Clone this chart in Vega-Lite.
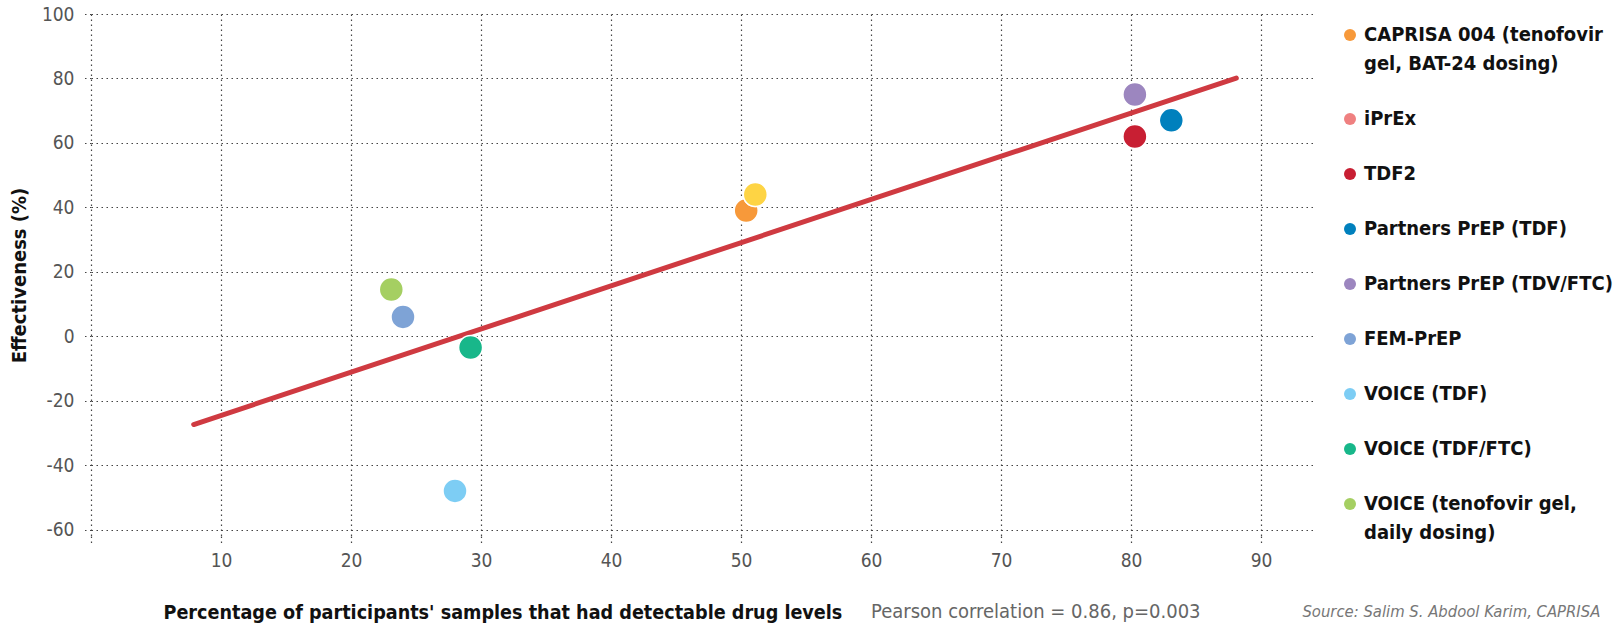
{
  "$schema": "https://vega.github.io/schema/vega-lite/v6.json",
  "width": 1222,
  "height": 522,
  "autosize": {"type": "none"},
  "padding": {"left": 91, "top": 14, "right": 308, "bottom": 92},
  "background": "white",
  "config": {
    "view": {"stroke": null},
    "font": "Liberation Sans Narrow, DejaVu Sans Condensed, Arial Narrow, Liberation Sans, sans-serif",
    "style": {"guide-label": {"lineHeight": 29}},
    "axis": {
      "domain": false,
      "grid": true,
      "gridColor": "#444",
      "gridDash": [1.5, 3.5],
      "gridWidth": 1.2,
      "tickColor": "#444",
      "tickDash": [1.5, 3.5],
      "tickWidth": 1.2,
      "tickSize": 9,
      "labelFont": "Liberation Sans Narrow, DejaVu Sans Condensed, Arial Narrow, Liberation Sans, sans-serif",
      "labelFontSize": 19,
      "labelColor": "#555",
      "titleFont": "Liberation Sans Narrow, DejaVu Sans Condensed, Arial Narrow, Liberation Sans, sans-serif",
      "titleFontWeight": "bold",
      "titleColor": "#111",
      "titleFontSize": 20
    },
    "legend": {
      "labelFont": "Liberation Sans Narrow, DejaVu Sans Condensed, Arial Narrow, Liberation Sans, sans-serif",
      "labelFontWeight": "bold",
      "labelFontSize": 20,
      "labelColor": "#111",
      "labelLimit": 400,
      "symbolType": "circle",
      "symbolSize": 144,
      "symbolStrokeWidth": 0,
      "symbolOpacity": 1,
      "rowPadding": 35,
      "padding": 0
    }
  },
  "datasets": {
    "studies": [
      {"study": "CAPRISA 004 (tenofovir gel, BAT-24 dosing)", "detect": 50.4, "eff": 39},
      {"study": "iPrEx", "detect": 51.1, "eff": 44},
      {"study": "TDF2", "detect": 80.3, "eff": 62},
      {"study": "Partners PrEP (TDF)", "detect": 83.1, "eff": 67},
      {"study": "Partners PrEP (TDV/FTC)", "detect": 80.3, "eff": 75},
      {"study": "FEM-PrEP", "detect": 24.0, "eff": 6},
      {"study": "VOICE (TDF)", "detect": 28.0, "eff": -48},
      {"study": "VOICE (TDF/FTC)", "detect": 29.2, "eff": -3.5},
      {"study": "VOICE (tenofovir gel, daily dosing)", "detect": 23.1, "eff": 14.5}
    ],
    "fit": [
      {"detect": 7.9, "eff": -27.4},
      {"detect": 88.1, "eff": 80.1}
    ],
    "notes": [
      {"text": "Pearson correlation = 0.86, p=0.003", "kind": "stat", "detect": 60.0, "eff": -85.6},
      {"text": "Source: Salim S. Abdool Karim, CAPRISA", "kind": "source", "detect": 116.1, "eff": -85.6}
    ]
  },
  "layer": [
    {
      "data": {"name": "fit"},
      "mark": {"type": "line", "color": "#cf3a41", "strokeWidth": 5, "strokeCap": "round"},
      "encoding": {
        "x": {
          "field": "detect", "type": "quantitative",
          "scale": {"domain": [0, 94], "nice": false, "zero": false},
          "axis": {
            "values": [0, 10, 20, 30, 40, 50, 60, 70, 80, 90],
            "labelExpr": "datum.value == 0 ? '' : datum.label",
            "labelPadding": 6,
            "title": "Percentage of participants' samples that had detectable drug levels",
            "titleFontSize": 19.6,
            "titleAnchor": "start",
            "titleAlign": "left",
            "titleX": 72,
            "titleY": 76,
            "titleBaseline": "middle"
          }
        },
        "y": {
          "field": "eff", "type": "quantitative",
          "scale": {"domain": [-62, 100], "nice": false, "zero": false},
          "axis": {
            "values": [-60, -40, -20, 0, 20, 40, 60, 80, 100],
            "labelExpr": "'' + datum.value",
            "labelPadding": 8,
            "title": "Effectiveness (%)",
            "titlePadding": 12
          }
        }
      }
    },
    {
      "data": {"name": "studies"},
      "mark": {"type": "circle", "size": 576, "opacity": 1, "stroke": "white", "strokeWidth": 1.5},
      "encoding": {
        "x": {"field": "detect", "type": "quantitative"},
        "y": {"field": "eff", "type": "quantitative"},
        "color": {
          "field": "study", "type": "nominal",
          "scale": {
            "domain": ["CAPRISA 004 (tenofovir gel, BAT-24 dosing)", "iPrEx", "TDF2", "Partners PrEP (TDF)", "Partners PrEP (TDV/FTC)", "FEM-PrEP", "VOICE (TDF)", "VOICE (TDF/FTC)", "VOICE (tenofovir gel, daily dosing)"],
            "range": ["#f7993a", "#ef8080", "#c81f33", "#0080bd", "#9c86bf", "#7ea3d6", "#7dcdf4", "#18b78a", "#a5cf62"]
          },
          "legend": {
            "title": null,
            "orient": "none",
            "legendX": 1249,
            "legendY": 11,
            "labelExpr": "datum.label == 'CAPRISA 004 (tenofovir gel, BAT-24 dosing)' ? ['CAPRISA 004 (tenofovir', 'gel, BAT-24 dosing)'] : datum.label == 'VOICE (tenofovir gel, daily dosing)' ? ['VOICE (tenofovir gel,', 'daily dosing)'] : datum.label"
          }
        }
      }
    },
    {
      "data": {"name": "studies"},
      "transform": [{"filter": "datum.study == 'iPrEx'"}],
      "mark": {"type": "circle", "size": 576, "opacity": 1, "color": "#fed444", "stroke": "white", "strokeWidth": 1.5},
      "encoding": {
        "x": {"field": "detect", "type": "quantitative"},
        "y": {"field": "eff", "type": "quantitative"}
      }
    },
    {
      "data": {"name": "notes"},
      "transform": [{"filter": "datum.kind == 'stat'"}],
      "mark": {"type": "text", "align": "left", "baseline": "middle", "fontSize": 20, "color": "#666", "clip": false},
      "encoding": {
        "x": {"field": "detect", "type": "quantitative"},
        "y": {"field": "eff", "type": "quantitative"},
        "text": {"field": "text"}
      }
    },
    {
      "data": {"name": "notes"},
      "transform": [{"filter": "datum.kind == 'source'"}],
      "mark": {"type": "text", "align": "right", "baseline": "middle", "fontSize": 16.5, "fontStyle": "italic", "color": "#777", "clip": false},
      "encoding": {
        "x": {"field": "detect", "type": "quantitative"},
        "y": {"field": "eff", "type": "quantitative"},
        "text": {"field": "text"}
      }
    }
  ]
}
